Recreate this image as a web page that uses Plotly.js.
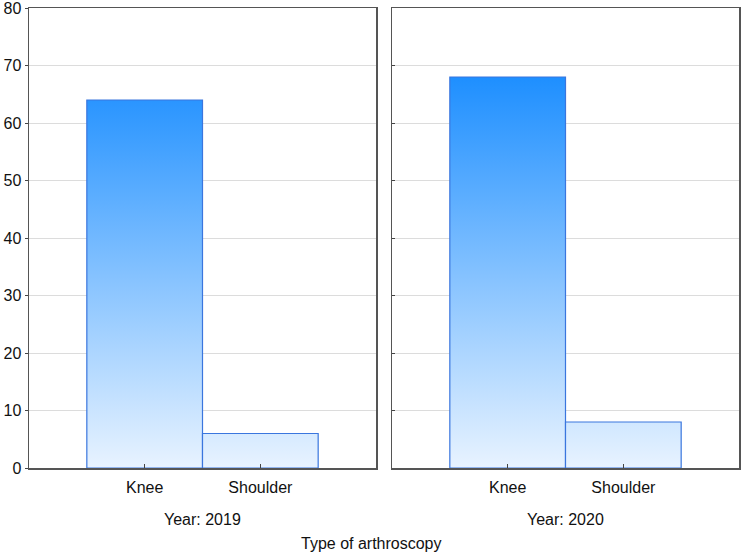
<!DOCTYPE html>
<html>
<head>
<meta charset="utf-8">
<script src="https://cdn.plot.ly/plotly-3.0.1.min.js"></script>
<style>html,body{margin:0;padding:0;background:#fff;}#chart{width:742px;height:554px;}</style>
</head>
<body>
<div id="chart"></div>
<script>
var categories = ["Knee", "Shoulder"];
var years = ["2019", "2020"];
var counts2019 = [64, 6];
var counts2020 = [68, 8];
var yTicks = [0, 10, 20, 30, 40, 50, 60, 70, 80];

var series = [counts2019, counts2020];
var maxVal = Math.max.apply(null, counts2019.concat(counts2020));
var traces = [];
series.forEach(function (vals, p) {
  vals.forEach(function (v, i) {
    traces.push({
      type: 'scatter', mode: 'lines',
      x: [i - 0.5, i - 0.5, i + 0.5, i + 0.5, i - 0.5],
      y: [0, v, v, 0, 0],
      fill: 'toself',
      fillgradient: {type: 'vertical', start: 0, stop: maxVal,
        colorscale: [[0, '#e8f3ff'], [1, '#1e8fff']]},
      line: {color: '#3a76de', width: 1.2},
      xaxis: p === 0 ? 'x' : 'x2', yaxis: p === 0 ? 'y' : 'y2',
      hoverinfo: 'skip', showlegend: false,
      name: categories[i] + ' ' + years[p]
    });
  });
});

var fnt = {family: 'Liberation Sans, Arial, sans-serif', size: 16, color: '#111'};
var xa = {
  range: [-1, 2], tickvals: [0, 1], ticktext: categories,
  ticks: 'inside', ticklen: 4, tickcolor: '#444', showgrid: false, zeroline: false,
  showline: true, linecolor: '#555', linewidth: 1.5, mirror: true,
  tickfont: fnt, ticklabelstandoff: 4, fixedrange: true
};
var ya = {
  range: [0, 80.0001], tickvals: yTicks, ticks: 'outside', ticklen: 3, tickcolor: '#444',
  showgrid: true, gridcolor: '#dcdcdc', gridwidth: 1, zeroline: false,
  showline: true, linecolor: '#555', linewidth: 1.5, mirror: true,
  tickfont: fnt, ticklabeloverflow: 'allow', fixedrange: true
};
var layout = {
  width: 742, height: 554,
  margin: {l: 29, r: 3, t: 8, b: 86},
  paper_bgcolor: '#fff', plot_bgcolor: '#fff',
  font: fnt,
  xaxis: Object.assign({}, xa, {domain: [0, 347 / 710], anchor: 'y'}),
  xaxis2: Object.assign({}, xa, {domain: [363 / 710, 1], anchor: 'y2'}),
  yaxis: Object.assign({}, ya, {anchor: 'x'}),
  yaxis2: Object.assign({}, ya, {anchor: 'x2', showticklabels: false, ticks: 'inside'}),
  annotations: [
    {text: 'Year: ' + years[0], xref: 'paper', yref: 'paper', x: 173.5 / 710, y: -0.113,
     xanchor: 'center', yanchor: 'middle', showarrow: false, font: fnt},
    {text: 'Year: ' + years[1], xref: 'paper', yref: 'paper', x: 536.5 / 710, y: -0.113,
     xanchor: 'center', yanchor: 'middle', showarrow: false, font: fnt},
    {text: 'Type of arthroscopy', xref: 'paper', yref: 'paper', x: 342 / 710, y: -0.165,
     xanchor: 'center', yanchor: 'middle', showarrow: false, font: fnt}
  ]
};
Plotly.newPlot('chart', traces, layout, {displayModeBar: false, staticPlot: true});
</script>
</body>
</html>
